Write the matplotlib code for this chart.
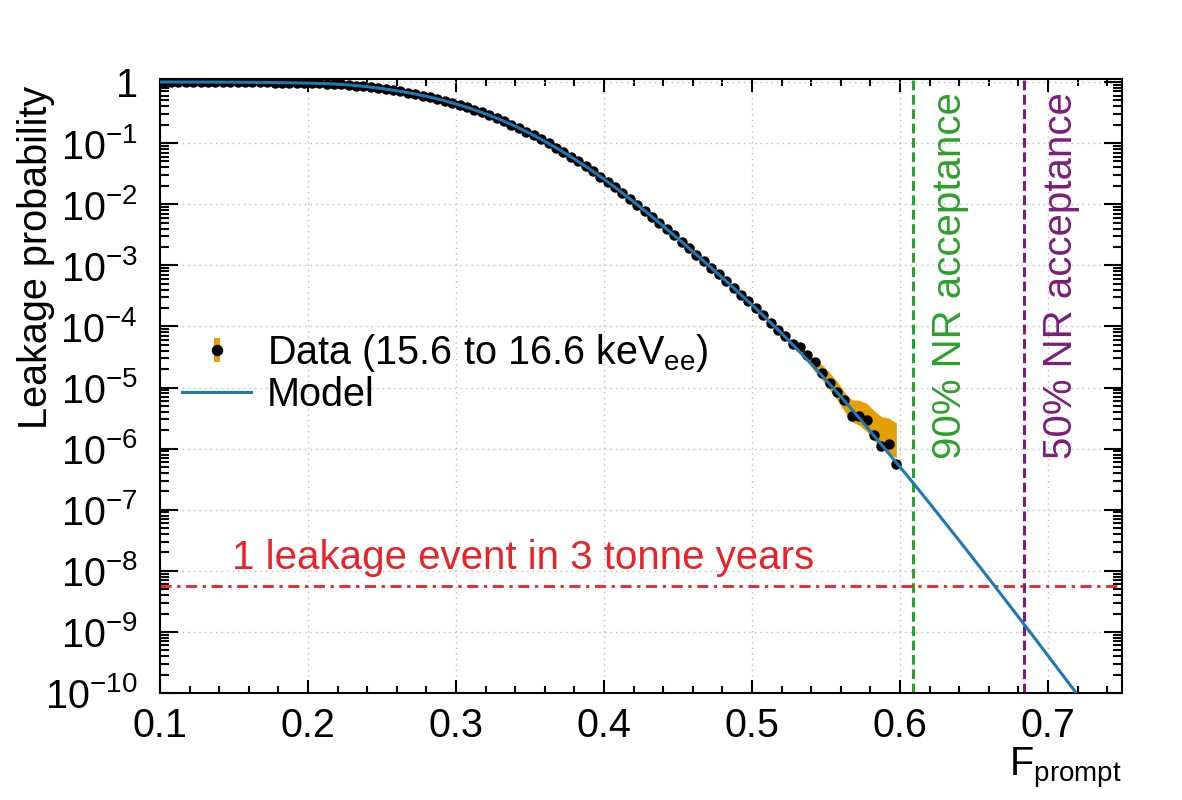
import numpy as np
import matplotlib
matplotlib.use("Agg")
import matplotlib.pyplot as plt
import matplotlib.transforms as mtransforms
from matplotlib.lines import Line2D
from matplotlib.legend_handler import HandlerTuple
from matplotlib.ticker import LogLocator, MultipleLocator, FuncFormatter, NullFormatter

plt.rcParams['font.family'] = ['Liberation Sans', 'DejaVu Sans']
plt.rcParams['mathtext.fontset'] = 'custom'
plt.rcParams['mathtext.rm'] = 'Liberation Sans'
plt.rcParams['mathtext.it'] = 'Liberation Sans:italic'
plt.rcParams['mathtext.bf'] = 'Liberation Sans:bold'
plt.rcParams['mathtext.default'] = 'regular'

# data: leakage probability per Fprompt bin (log10), bins of 0.005 starting at 0.1
bin_width = 0.005
data_log10 = [
    0.000, 0.000, 0.000, -0.001, -0.001, -0.001, -0.001, -0.002, -0.002, -0.003,
    -0.003, -0.004, -0.005, -0.006, -0.008, -0.009, -0.011, -0.013, -0.015, -0.017,
    -0.020, -0.023, -0.027, -0.032, -0.039, -0.048, -0.058, -0.071, -0.084, -0.099,
    -0.116, -0.134, -0.153, -0.174, -0.197, -0.222, -0.249, -0.277, -0.309, -0.343,
    -0.379, -0.416, -0.456, -0.499, -0.544, -0.592, -0.643, -0.696, -0.752, -0.811,
    -0.873, -0.938, -1.005, -1.075, -1.148, -1.223, -1.300, -1.380, -1.463, -1.548,
    -1.635, -1.725, -1.818, -1.913, -2.009, -2.107, -2.206, -2.307, -2.409, -2.512,
    -2.617, -2.722, -2.828, -2.935, -3.042, -3.149, -3.258, -3.368, -3.479, -3.592,
    -3.706, -3.821, -3.937, -4.054, -4.16, -4.28, -4.34, -4.46, -4.59, -4.77,
    -4.92, -5.07, -5.20, -5.47, -5.47, -5.54, -5.77, -5.95, -5.93, -6.25,
]
# error band on the last bins (log10 of upper / lower edge)
band_first_bin = 84
band_up_log10 = [-4.14, -4.24, -4.34, -4.45, -4.55, -4.63, -4.76, -4.90,
                 -5.08, -5.20, -5.21, -5.26, -5.38, -5.48, -5.50, -5.58]
band_lo_log10 = [-4.18, -4.30, -4.42, -4.58, -4.74, -4.88, -5.04, -5.20,
                 -5.39, -5.56, -5.62, -5.72, -5.87, -6.00, -6.08, -6.15]

# model curve, sampled every 0.01 from 0.10 to 0.72 (log10)
model_log10 = [
    0.000, 0.000, -0.001, -0.001, -0.002, -0.003, -0.005, -0.007, -0.010, -0.014,
    -0.018, -0.025, -0.035, -0.053, -0.077, -0.107, -0.143, -0.185, -0.234, -0.292,
    -0.360, -0.435, -0.520, -0.616, -0.723, -0.841, -0.970, -1.110, -1.260, -1.420,
    -1.590, -1.770, -1.960, -2.156, -2.358, -2.564, -2.774, -2.988, -3.203, -3.423,
    -3.648, -3.878, -4.113, -4.360, -4.615, -4.878, -5.150, -5.430, -5.717, -6.010,
    -6.300, -6.595, -6.895, -7.200, -7.505, -7.815, -8.125, -8.440, -8.755, -9.070,
    -9.390, -9.710, -10.030,
]

nr90 = 0.6086
nr50 = 0.684
one_event = 5.7e-9

orange = '#E69F00'
blue = '#1f78b4'
green = '#2ca02c'
purple = '#7a1e7a'
red = '#e8232a'

data_x = 0.1 + bin_width * (np.arange(len(data_log10)) + 0.5)
data_p = 10.0 ** np.array(data_log10)
model_x = 0.10 + 0.01 * np.arange(len(model_log10))
model_p = 10.0 ** np.array(model_log10)
band_x = data_x[band_first_bin:]

fig = plt.figure(figsize=(11.82, 8), dpi=100)
ax = fig.add_axes([160 / 1182, 1 - 693 / 800, 962 / 1182, 614 / 800])
ax.set_yscale('log')
ax.set_xlim(0.1, 0.75)
ax.set_ylim(1e-10, 1.12)

ax.grid(which='major', color='#bbbbbb', linestyle=(0, (1, 3)), linewidth=1)
ax.set_axisbelow(True)

ax.fill_between(band_x, 10.0 ** np.array(band_lo_log10), 10.0 ** np.array(band_up_log10),
                color=orange, lw=0, zorder=2)
ax.plot(data_x, data_p, 'o', color='black', ms=6.5, zorder=3)
ax.plot(model_x, model_p, color=blue, lw=2.2, zorder=4)

ax.axvline(nr90, color=green, lw=2.2, ls=(0, (3.2, 1.5)), zorder=1.5)
ax.axvline(nr50, color=purple, lw=2.2, ls=(0, (3.2, 1.5)), zorder=1.5)
ax.axhline(one_event, color=red, lw=2.0, ls=(0, (4, 2, 1.2, 2)), zorder=1.5)

trans = mtransforms.blended_transform_factory(ax.transData, ax.transAxes)
ax.text(0.6335, 0.979, '90% NR acceptance', rotation=90, transform=trans,
        ha='center', va='top', color=green, fontsize=29)
ax.text(0.7088, 0.979, '50% NR acceptance', rotation=90, transform=trans,
        ha='center', va='top', color=purple, fontsize=29)
ax.text(0.1486, 1.08e-8, '1 leakage event in 3 tonne years', color=red,
        fontsize=29, ha='left', va='baseline')

# axes and ticks
ax.xaxis.set_major_locator(MultipleLocator(0.1))
ax.xaxis.set_minor_locator(MultipleLocator(0.02))
ax.xaxis.set_major_formatter(FuncFormatter(lambda v, p: f'{v:.1f}'))
ax.yaxis.set_major_locator(LogLocator(base=10, numticks=20))
ax.yaxis.set_minor_locator(LogLocator(base=10, subs=np.arange(2, 10), numticks=20))
ax.yaxis.set_minor_formatter(NullFormatter())


def ylab(v, pos):
    n = int(round(np.log10(v)))
    return '1' if n == 0 else f'$10^{{{n}}}$'


ax.yaxis.set_major_formatter(FuncFormatter(ylab))
ax.tick_params(which='both', direction='in', top=True, right=True, width=1.5,
               labelsize=28.5)
ax.tick_params(axis='x', which='major', length=9.5, pad=10)
ax.tick_params(axis='x', which='minor', length=5)
ax.tick_params(axis='y', which='major', length=13, pad=16)
ax.tick_params(axis='y', which='minor', length=6.5)
for s in ax.spines.values():
    s.set_linewidth(1.5)

ax.set_ylabel('Leakage probability', fontsize=28.5)
ax.yaxis.set_label_coords(-0.109, 0.709)
ax.text(1.0, -0.085, 'F$_{prompt}$', transform=ax.transAxes, ha='right', va='top',
        fontsize=28.5)

bar = Line2D([], [], marker='|', ls='none', color=orange, markersize=17, markeredgewidth=4.3)
dot = Line2D([], [], marker='o', ls='none', color='black', markersize=7.2)
mod = Line2D([], [], color=blue, lw=2.2)
ax.legend([(bar, dot), mod], ['Data (15.6 to 16.6 keV$_{\\mathregular{ee}}$)', 'Model'],
          handler_map={tuple: HandlerTuple(ndivide=1, pad=0)}, loc='upper left',
          bbox_to_anchor=(0.0229, 0.588), frameon=False, fontsize=28.5,
          handlelength=1.75, handletextpad=0.4, labelspacing=0.05,
          borderpad=0, borderaxespad=0)

fig.savefig('out.png', dpi=100)
